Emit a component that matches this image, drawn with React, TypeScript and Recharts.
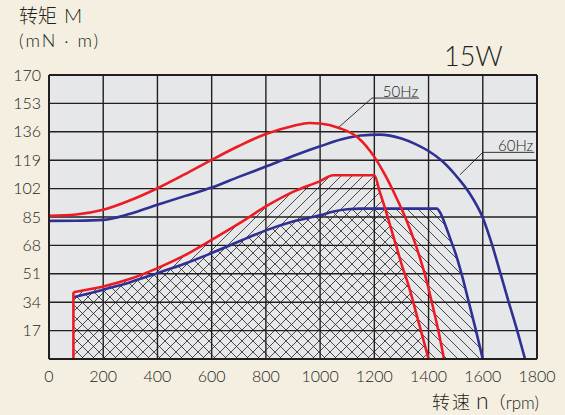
import React from 'react';
import {
  ComposedChart,
  Line,
  Area,
  XAxis,
  YAxis,
  CartesianGrid,
  ReferenceLine,
} from 'recharts';

// speed ticks (rpm) and torque ticks (mN·m)
const speedTicks = [0, 200, 400, 600, 800, 1000, 1200, 1400, 1600, 1800];
const torqueTicks = [17, 34, 51, 68, 85, 102, 119, 136, 153, 170];

// 50Hz maximum torque curve
const max50Rpm = [0, 100, 200, 300, 400, 500, 600, 700, 800, 900, 960, 1000, 1070, 1140, 1200, 1240, 1280, 1320, 1350, 1370, 1390, 1412, 1436, 1457];
const max50Torque = [85.7, 86.5, 89.3, 95, 102.2, 110.5, 119.2, 127.5, 134.7, 139.5, 141.3, 141, 138.3, 132.5, 121, 110, 97, 82.5, 69.5, 59.5, 48.5, 34, 17, 0];

// 60Hz maximum torque curve
const max60Rpm = [0, 100, 200, 300, 400, 500, 600, 700, 800, 900, 1000, 1080, 1150, 1220, 1300, 1350, 1400, 1450, 1500, 1550, 1600, 1633, 1663, 1694, 1727, 1756];
const max60Torque = [82.7, 82.8, 83.3, 87, 92.3, 97.5, 102.6, 109, 115.2, 121.5, 127.3, 131.5, 133.8, 134.3, 132, 128.8, 124.5, 118.5, 110, 99.5, 84.5, 69, 52.5, 35, 17, 0];

// 50Hz rated (continuous) region
const rated50Rpm = [90, 200, 300, 400, 500, 600, 700, 800, 900, 1000, 1048, 1200, 1220, 1240, 1260, 1280, 1300, 1330, 1360, 1400];
const rated50Torque = [40, 43.4, 48, 54.4, 62, 71.3, 81, 91.3, 100, 106.5, 110, 110, 100, 90, 79, 68, 57, 42, 24, 0];

// 60Hz rated (continuous) region
const rated60Rpm = [90, 200, 300, 400, 500, 600, 700, 800, 900, 1000, 1050, 1100, 1150, 1430, 1445, 1460, 1480, 1500, 1525, 1550, 1575, 1600];
const rated60Torque = [37, 41.5, 46, 51.4, 57, 63.4, 70.3, 77, 82.3, 86, 88.3, 89.6, 90, 90, 87, 81, 72, 63, 49, 33, 17, 0];

const RED = '#ed1c24';
const BLUE = '#2e3192';
const INK = '#231f20';
const LATIN = 'Lato, "Noto Sans", sans-serif';
const CJK = '"Noto Sans CJK SC", sans-serif';

const toRows = (xs: number[], ys: number[]) => xs.map((rpm, i) => ({ rpm, t: ys[i] }));

const max50 = toRows(max50Rpm, max50Torque);
const max60 = toRows(max60Rpm, max60Torque);
const rated50 = toRows(rated50Rpm, rated50Torque);
const rated60 = toRows(rated60Rpm, rated60Torque);

const hzLabel = (text: string) => ({
  value: text,
  position: 'insideBottomRight' as const,
  offset: 1,
  fill: INK,
  fontSize: 15,
  fontWeight: 300,
  fontFamily: LATIN,
});

const tickStyle = { fill: INK, fontSize: 16, fontWeight: 300, fontFamily: LATIN };

export default function App() {
  return (
    <div
      style={{
        position: 'fixed',
        left: 0,
        top: 0,
        width: 565,
        height: 415,
        background: '#f4efe1',
        color: INK,
      }}
    >
      <div style={{ position: 'absolute', left: 19, top: 4, lineHeight: '22px', whiteSpace: 'nowrap' }}>
        <div>
          <span style={{ fontFamily: CJK, fontWeight: 300, fontSize: 19 }}>转矩</span>
          <span style={{ fontFamily: LATIN, fontWeight: 300, marginLeft: 7, fontSize: 20 }}>M</span>
        </div>
        <div style={{ fontFamily: LATIN, fontWeight: 300, fontSize: 18, letterSpacing: 2 }}>(mN · m)</div>
      </div>
      <div style={{ position: 'absolute', left: 444, top: 39, fontFamily: LATIN, fontWeight: 300, fontSize: 27 }}>15W</div>
      <div style={{ position: 'absolute', left: 432, top: 386, whiteSpace: 'nowrap' }}>
        <span style={{ fontFamily: CJK, fontWeight: 300, fontSize: 18, letterSpacing: 2 }}>转速</span>
        <span style={{ fontFamily: LATIN, fontWeight: 300, fontSize: 23, marginLeft: 4 }}>n</span>
        <span style={{ fontFamily: CJK, fontWeight: 300, fontSize: 17 }}>（</span>
        <span style={{ fontFamily: LATIN, fontWeight: 300, fontSize: 17 }}>rpm)</span>
      </div>

      <ComposedChart
        width={565}
        height={415}
        margin={{ top: 75, right: 28, bottom: 26, left: 9 }}
        style={{ position: 'absolute', left: 0, top: 0 }}
      >
        <defs>
          <pattern id="hatchFwd" patternUnits="userSpaceOnUse" width="11" height="11">
            <path d="M-1,1 L1,-1 M0,11 L11,0 M10,12 L12,10" stroke={INK} strokeWidth="0.8" />
          </pattern>
          <pattern id="hatchBack" patternUnits="userSpaceOnUse" width="11" height="11">
            <path d="M-1,10 L1,12 M0,0 L11,11 M10,-1 L12,1" stroke={INK} strokeWidth="0.8" />
          </pattern>
        </defs>
        <CartesianGrid stroke={INK} strokeWidth={1.4} fill="#e6e7e9" fillOpacity={1} />
        <XAxis
          type="number"
          dataKey="rpm"
          domain={[0, 1800]}
          ticks={speedTicks}
          allowDataOverflow
          height={30}
          tickLine={false}
          tickMargin={6}
          axisLine={{ stroke: INK, strokeWidth: 2 }}
          tick={tickStyle}
        />
        <YAxis
          type="number"
          dataKey="t"
          domain={[0, 170]}
          ticks={torqueTicks}
          allowDataOverflow
          width={40}
          tickLine={false}
          axisLine={{ stroke: INK, strokeWidth: 2 }}
          tick={tickStyle}
        />
        <ReferenceLine y={170} stroke={INK} strokeWidth={2} />
        <ReferenceLine x={1800} stroke={INK} strokeWidth={2} />

        <Area
          data={rated50}
          dataKey="t"
          type="monotone"
          stroke="none"
          fill="url(#hatchFwd)"
          fillOpacity={1}
          isAnimationActive={false}
        />
        <Area
          data={rated60}
          dataKey="t"
          type="monotone"
          stroke="none"
          fill="url(#hatchBack)"
          fillOpacity={1}
          isAnimationActive={false}
        />

        <Line data={max60} dataKey="t" type="monotone" stroke={BLUE} strokeWidth={2.6} dot={false} activeDot={false} isAnimationActive={false} />
        <Line data={rated60} dataKey="t" type="monotone" stroke={BLUE} strokeWidth={2.6} dot={false} activeDot={false} isAnimationActive={false} />
        <Line data={max50} dataKey="t" type="monotone" stroke={RED} strokeWidth={2.6} dot={false} activeDot={false} isAnimationActive={false} />
        <Line data={rated50} dataKey="t" type="monotone" stroke={RED} strokeWidth={2.6} dot={false} activeDot={false} isAnimationActive={false} />
        <ReferenceLine segment={[{ x: 90, y: 0 }, { x: 90, y: 40 }]} stroke={RED} strokeWidth={2.6} />

        {/* curve labels with leader lines */}
        <ReferenceLine segment={[{ x: 1070, y: 138.9 }, { x: 1191, y: 156.2 }]} stroke={INK} strokeWidth={0.9} />
        <ReferenceLine
          segment={[{ x: 1191, y: 156.2 }, { x: 1365, y: 156.2 }]}
          stroke={INK}
          strokeWidth={0.9}
          label={hzLabel('50Hz')}
        />
        <ReferenceLine segment={[{ x: 1516, y: 110.3 }, { x: 1600, y: 123.7 }]} stroke={INK} strokeWidth={0.9} />
        <ReferenceLine
          segment={[{ x: 1600, y: 123.7 }, { x: 1790, y: 123.7 }]}
          stroke={INK}
          strokeWidth={0.9}
          label={hzLabel('60Hz')}
        />
      </ComposedChart>
    </div>
  );
}
